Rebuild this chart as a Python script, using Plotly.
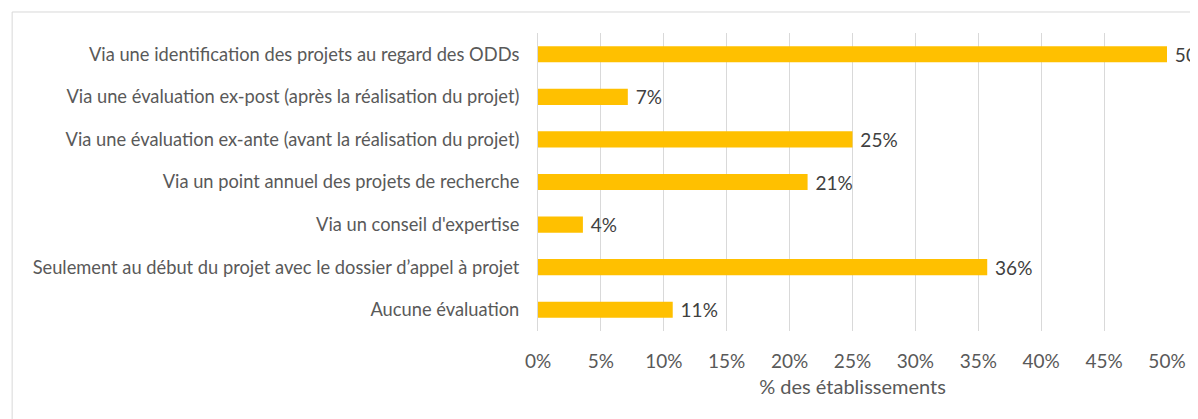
import plotly.graph_objects as go

categories = [
    "Via une identification des projets au regard des ODDs",
    "Via une évaluation ex-post (après la réalisation du projet)",
    "Via une évaluation ex-ante (avant la réalisation du projet)",
    "Via un point annuel des projets de recherche",
    "Via un conseil d'expertise",
    "Seulement au début du projet avec le dossier d’appel à projet",
    "Aucune évaluation",
]
values = [0.50, 0.0714, 0.25, 0.2143, 0.0357, 0.3571, 0.1071]
tick_vals = [0, 0.05, 0.10, 0.15, 0.20, 0.25, 0.30, 0.35, 0.40, 0.45, 0.50]
tick_text = ["0%", "5%", "10%", "15%", "20%", "25%", "30%", "35%", "40%", "45%", "50%"]

font_family = "Lato, Liberation Sans, Arial, sans-serif"
gray = "#595959"

fig = go.Figure(go.Bar(
    y=categories,
    x=values,
    orientation="h",
    marker=dict(color="#FFC000", line=dict(width=0)),
    width=0.38,
    texttemplate=" %{x:.0%}",
    textposition="outside",
    constraintext="none",
    textfont=dict(size=19, color="#404040", family=font_family),
    cliponaxis=False,
))

fig.update_layout(
    width=1190, height=411,
    margin=dict(l=530, r=26, t=25, b=88),
    plot_bgcolor="white", paper_bgcolor="white",
    showlegend=False,
    font=dict(family=font_family, color=gray, size=16),
    shapes=[dict(type="rect", xref="paper", yref="paper",
                 x0=-0.836, x1=1.2, y0=-0.5, y1=1.0705,
                 line=dict(color="#d9d9d9", width=1), layer="below")],
)
fig.update_xaxes(
    range=[0, 0.5], tickvals=tick_vals, ticktext=tick_text,
    showgrid=True, gridcolor="#d9d9d9", gridwidth=1,
    zeroline=False, showline=False,
    tickfont=dict(size=19, color=gray),
    ticklabelstandoff=17,
    title=dict(text="% des établissements", font=dict(size=20, color=gray), standoff=8),
)
fig.update_yaxes(
    categoryorder="array", categoryarray=categories[::-1],
    showline=True, linecolor="#d9d9d9", linewidth=1,
    showgrid=False, ticks="", ticklabelstandoff=14,
    tickfont=dict(size=18.3, color=gray),
)

fig.write_html("out.html")
